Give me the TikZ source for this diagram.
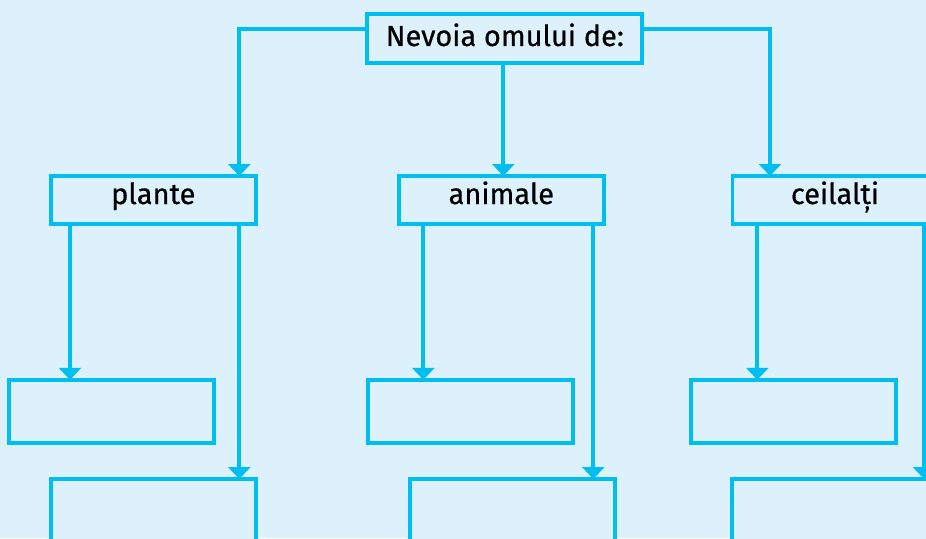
\documentclass[tikz,border=0pt]{standalone}
\usepackage{fontspec}
\setmainfont{Fira Sans}[UprightFeatures={FakeBold=0.6}]
\usetikzlibrary{arrows.meta}
\definecolor{linecyan}{HTML}{00BFF0}
\definecolor{paleblue}{HTML}{DDF1FC}

\begin{document}
\begin{tikzpicture}[x=0.02cm, y=-0.02cm,
box_style/.style={rectangle,draw=linecyan,line width=0.075cm,fill=paleblue,inner sep=0pt,outer sep=0pt,minimum width=4.1cm,font=\fontsize{16.5}{19}\selectfont},
head_style/.style={box_style,minimum height=0.96cm,text height=7.5pt,text depth=2.95pt},
empty_style/.style={box_style,minimum height=1.26cm},
arrow_style/.style={draw=linecyan,line width=0.075cm,-{Triangle[width=0.44cm,length=0.24cm]}}]
\useasboundingbox (0,0) rectangle (926,538);
\fill[paleblue] (0,0) rectangle (926,538);
\clip (0,0) rectangle (926,538);

\node[box_style,minimum width=5.5cm,minimum height=0.98cm,text height=11pt,text depth=2.7pt] (need) at (504.8,38.7) {Nevoia omului de:};

\node[head_style] (plante) at (153.3,200) {plante};
\node[head_style] (animale) at (501.3,200) {animale};
\node[head_style] (ceilalti) at (835,200) {ceilalți};

\node[empty_style] (plante1) at (111.8,411.3) {};
\node[empty_style] (animale1) at (470.8,411.3) {};
\node[empty_style] (ceilalti1) at (793.2,411.3) {};

\node[empty_style] (plante2) at (153.3,510.5) {};
\node[empty_style] (animale2) at (512.5,510.5) {};
\node[empty_style] (ceilalti2) at (834.5,510.5) {};

\draw[arrow_style] (need.west |- 0,29) -| (plante.north -| 239.3,0);
\draw[arrow_style] (need.south -| 503.3,0) -- (animale.north -| 503.3,0);
\draw[arrow_style] (need.east |- 0,29) -| (ceilalti.north -| 770,0);

\draw[arrow_style] (plante.south -| 70,0) -- (plante1.north -| 70,0);
\draw[arrow_style] (plante.south -| 239.3,0) -- (plante2.north -| 239.3,0);
\draw[arrow_style] (animale.south -| 423.3,0) -- (animale1.north -| 423.3,0);
\draw[arrow_style] (animale.south -| 593.3,0) -- (animale2.north -| 593.3,0);
\draw[arrow_style] (ceilalti.south -| 757.3,0) -- (ceilalti1.north -| 757.3,0);
\draw[arrow_style] (ceilalti.south -| 924,0) -- (ceilalti2.north -| 924,0);

\end{tikzpicture}
\end{document}
